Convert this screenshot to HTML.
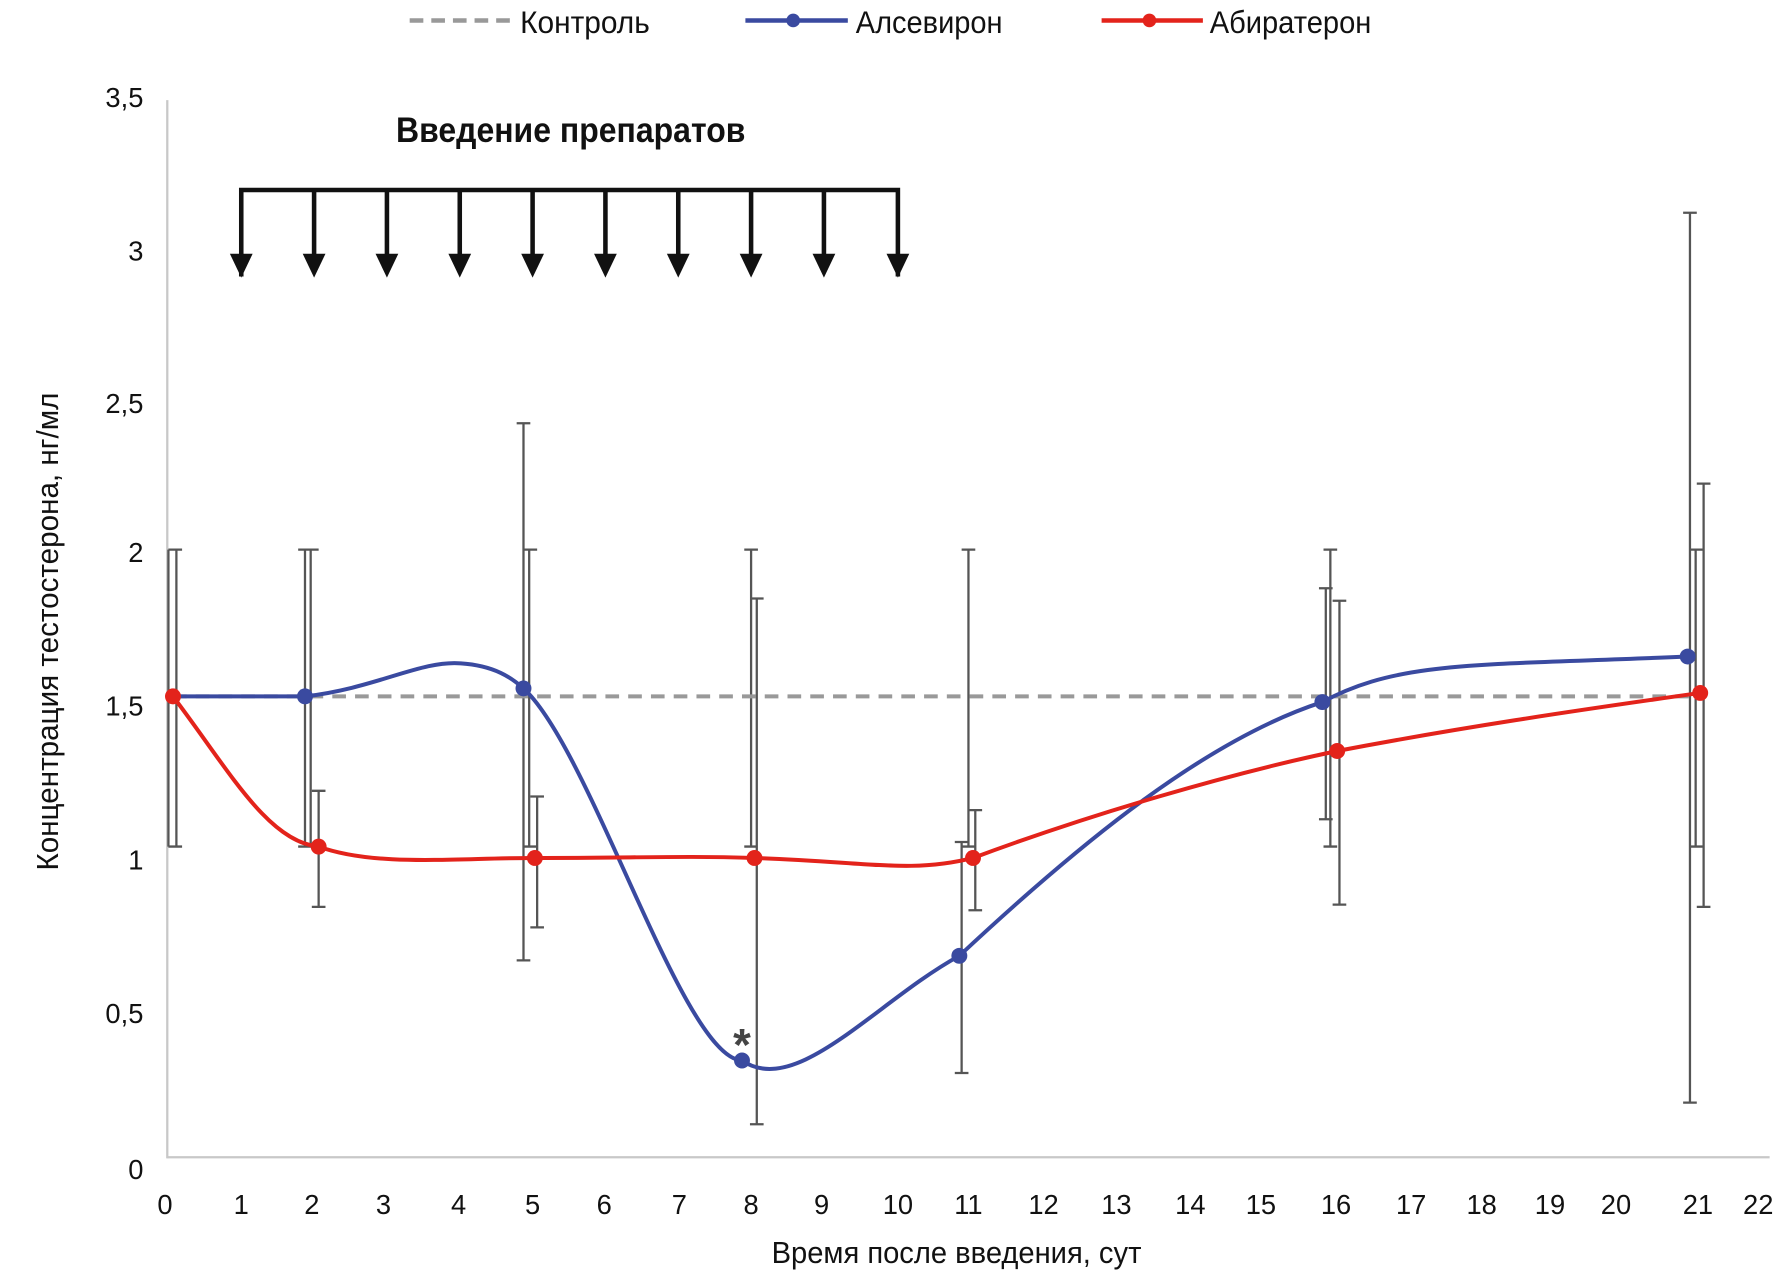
<!DOCTYPE html>
<html><head><meta charset="utf-8"><style>
html,body{margin:0;padding:0;background:#fff;}
svg{display:block;}
text{font-family:"Liberation Sans Narrow","Liberation Sans","DejaVu Sans",sans-serif;fill:#111;}
</style></head><body>
<svg width="1781" height="1271" viewBox="0 0 1565 1117" preserveAspectRatio="none" xmlns="http://www.w3.org/2000/svg">
<!-- legend -->
<line x1="360" y1="18" x2="448" y2="18" stroke="#999" stroke-width="4" stroke-dasharray="12,7"/>
<text x="457" y="29" font-size="28" textLength="114" lengthAdjust="spacingAndGlyphs">Контроль</text>
<line x1="655" y1="18" x2="745" y2="18" stroke="#3a4aa0" stroke-width="4"/>
<circle cx="697" cy="18" r="6" fill="#3a4aa0"/>
<text x="752" y="29" font-size="28" textLength="129" lengthAdjust="spacingAndGlyphs">Алсевирон</text>
<line x1="968" y1="18" x2="1057" y2="18" stroke="#e3231b" stroke-width="4"/>
<circle cx="1010" cy="18" r="6" fill="#e3231b"/>
<text x="1063" y="29" font-size="28" textLength="142" lengthAdjust="spacingAndGlyphs">Абиратерон</text>

<!-- axes -->
<line x1="147" y1="88" x2="147" y2="1018" stroke="#c8c8c8" stroke-width="2"/>
<line x1="147" y1="1017" x2="1555" y2="1017" stroke="#c8c8c8" stroke-width="2"/>
<g font-size="24" text-anchor="end">
<text x="126" y="1036">0</text><text x="126" y="899">0,5</text><text x="126" y="764">1</text>
<text x="126" y="629">1,5</text><text x="126" y="494">2</text><text x="126" y="363">2,5</text>
<text x="126" y="229">3</text><text x="126" y="94">3,5</text>
</g>
<g font-size="24" text-anchor="middle">
<text x="145" y="1067">0</text><text x="212" y="1067">1</text><text x="274" y="1067">2</text><text x="337" y="1067">3</text>
<text x="403" y="1067">4</text><text x="468" y="1067">5</text><text x="531" y="1067">6</text><text x="597" y="1067">7</text>
<text x="660" y="1067">8</text><text x="722" y="1067">9</text><text x="789" y="1067">10</text><text x="851" y="1067">11</text>
<text x="917" y="1067">12</text><text x="981" y="1067">13</text><text x="1046" y="1067">14</text><text x="1108" y="1067">15</text>
<text x="1174" y="1067">16</text><text x="1240" y="1067">17</text><text x="1302" y="1067">18</text><text x="1362" y="1067">19</text>
<text x="1420" y="1067">20</text><text x="1492" y="1067">21</text><text x="1545" y="1067">22</text>
</g>
<text x="678" y="1110" font-size="27" textLength="325" lengthAdjust="spacingAndGlyphs">Время после введения, сут</text>
<text transform="translate(51,765) rotate(-90)" font-size="27" textLength="420" lengthAdjust="spacingAndGlyphs">Концентрация тестостерона, нг/мл</text>

<!-- title and arrows -->
<text x="348" y="125" font-size="31" font-weight="bold" textLength="307" lengthAdjust="spacingAndGlyphs">Введение препаратов</text>
<g stroke="#111" stroke-width="4" fill="#111">
<polyline points="212,243 212,167 789,167 789,243" fill="none"/>
<line x1="276" y1="167" x2="276" y2="225"/><line x1="340" y1="167" x2="340" y2="225"/>
<line x1="404" y1="167" x2="404" y2="225"/><line x1="468" y1="167" x2="468" y2="225"/>
<line x1="532" y1="167" x2="532" y2="225"/><line x1="596" y1="167" x2="596" y2="225"/>
<line x1="660" y1="167" x2="660" y2="225"/><line x1="724" y1="167" x2="724" y2="225"/>
</g>
<g fill="#111">
<polygon points="202,223 222,223 212,244"/><polygon points="266,223 286,223 276,244"/>
<polygon points="330,223 350,223 340,244"/><polygon points="394,223 414,223 404,244"/>
<polygon points="458,223 478,223 468,244"/><polygon points="522,223 542,223 532,244"/>
<polygon points="586,223 606,223 596,244"/><polygon points="650,223 670,223 660,244"/>
<polygon points="714,223 734,223 724,244"/><polygon points="779,223 799,223 789,244"/>
</g>

<!-- error bars -->
<g stroke="#555" stroke-width="2" fill="none">
<path d="M148,483V744M148,483h10M148,744h10 M155,483V744M150,483h10M150,744h10"/>
<path d="M268,483V744M262,483h12M262,744h12 M273,483V744M268,483h12"/>
<path d="M280,695V797M274,695h12M274,797h12"/>
<path d="M460,372V844M454,372h12M454,844h12 M465,483V744M460,483h12M460,744h12"/>
<path d="M472,700V815M466,700h12M466,815h12"/>
<path d="M660,483V744M654,483h12M654,744h12 M665,526V988M659,526h12M659,988h12"/>
<path d="M845,740V943M839,740h12M839,943h12 M851,483V744M845,483h12M845,744h12"/>
<path d="M857,712V800M851,712h12M851,800h12"/>
<path d="M1165,517V720M1159,517h12M1159,720h12 M1169,483V744M1163,483h12M1163,744h12"/>
<path d="M1177,528V795M1171,528h12M1171,795h12"/>
<path d="M1485,187V969M1479,187h12M1479,969h12 M1490,483V744M1484,483h12M1484,744h12"/>
<path d="M1497,425V797M1491,425h12M1491,797h12"/>
</g>

<!-- control -->
<line x1="152" y1="612" x2="1494" y2="612" stroke="#999" stroke-width="3.5" stroke-dasharray="12,8"/>

<!-- blue -->
<path d="M152,612 L268,612 C330,605 370,580 405,583 C435,585 450,596 460,605 C520,660 600,930 652,932 C700,965 770,880 843,840 C950,740 1060,650 1162,617 C1230,580 1300,585 1483,577" fill="none" stroke="#3a4aa0" stroke-width="3.5"/>
<g fill="#3a4aa0">
<circle cx="268" cy="612" r="7"/><circle cx="460" cy="605" r="7"/><circle cx="652" cy="932" r="7"/>
<circle cx="843" cy="840" r="7"/><circle cx="1162" cy="617" r="7"/><circle cx="1483" cy="577" r="7"/>
</g>
<!-- red -->
<path d="M152,612 C200,675 235,740 280,744 C330,762 400,754 470,754 C560,754 600,752 663,754 C760,757 800,768 855,754 C960,715 1080,680 1175,660 C1280,640 1380,625 1494,609" fill="none" stroke="#e3231b" stroke-width="3.5"/>
<g fill="#e3231b">
<circle cx="152" cy="612" r="7"/><circle cx="280" cy="744" r="7"/><circle cx="470" cy="754" r="7"/>
<circle cx="663" cy="754" r="7"/><circle cx="855" cy="754" r="7"/><circle cx="1175" cy="660" r="7"/><circle cx="1494" cy="609" r="7"/>
</g>
<text x="652" y="932" font-size="40" font-weight="bold" text-anchor="middle" style="fill:#444">*</text>
</svg>
</body></html>
